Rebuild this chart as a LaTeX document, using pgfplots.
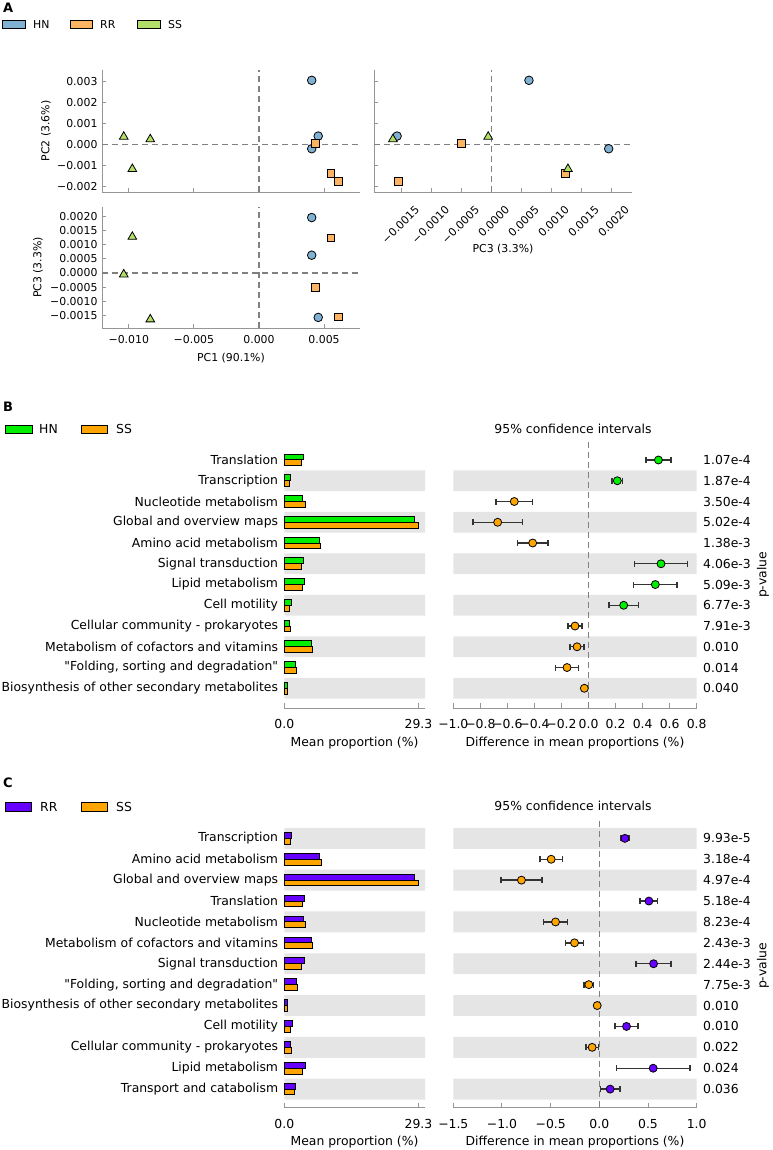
\documentclass[border=0pt]{standalone}
\usepackage{fontspec}
\setmainfont{DejaVu Sans}[Ligatures=TeXOff]
\usepackage{pgfplots}
\usepackage{pgfplotstable}
\pgfplotsset{compat=1.18}

\definecolor{hnA}{RGB}{128,177,211}
\definecolor{rrA}{RGB}{253,180,98}
\definecolor{ssA}{RGB}{179,222,105}
\definecolor{hnB}{RGB}{0,238,0}
\definecolor{ssB}{RGB}{255,165,0}
\definecolor{rrC}{RGB}{102,0,255}
\definecolor{band}{RGB}{229,229,229}
\definecolor{spine}{RGB}{150,150,150}

\newcommand\fa{\fontsize{10.9}{12}\selectfont}
\newcommand\fb{\fontsize{12.4}{14}\selectfont}

% PCA scores: pa = PC1, pb = PC2, pc = PC3
\pgfplotstableread{
pa pb pc
0.00405 0.00304 0.00063
0.00455 0.00040 -0.00157
0.00405 -0.00020 0.00196
}\HN
\pgfplotstableread{
pa pb pc
0.00432 0.00007 -0.00050
0.00553 -0.00138 0.00124
0.00607 -0.00176 -0.00155
}\RR
\pgfplotstableread{
pa pb pc
-0.01039 0.00037 -0.00005
-0.00835 0.00025 -0.00164
-0.00973 -0.00116 0.00128
}\SS

% panel B: HN vs SS
\pgfplotstableread{
r hn ss
0 4.30 3.80
-1 1.46 1.24
-2 3.93 4.52
-3 28.50 29.26
-4 7.64 8.01
-5 4.30 3.65
-6 4.37 3.93
-7 1.60 1.24
-8 1.17 1.31
-9 5.98 6.11
-10 2.49 2.62
-11 0.59 0.66
}\Bbar
\pgfplotstableread{
r d e
0 0.517 0.093
-1 0.213 0.040
-5 0.536 0.196
-6 0.494 0.161
-7 0.260 0.108
}\Bpos
\pgfplotstableread{
r d e
-2 -0.549 0.135
-3 -0.672 0.183
-4 -0.413 0.112
-8 -0.100 0.053
-9 -0.085 0.051
-10 -0.159 0.087
-11 -0.031 0.012
}\Bneg

% panel C: RR vs SS
\pgfplotstableread{
r rr ss
0 1.68 1.31
-1 7.58 8.08
-2 28.50 29.40
-3 4.45 3.93
-4 4.15 4.67
-5 5.90 6.20
-6 4.45 3.86
-7 2.77 2.92
-8 0.66 0.80
-9 1.75 1.40
-10 1.40 1.53
-11 4.67 4.00
-12 2.34 2.27
}\Cbar
\pgfplotstableread{
r d e
0 0.262 0.041
-3 0.509 0.090
-6 0.557 0.180
-9 0.279 0.120
-11 0.553 0.377
-12 0.111 0.100
}\Cpos
\pgfplotstableread{
r d e
-1 -0.495 0.115
-2 -0.800 0.210
-4 -0.450 0.125
-5 -0.255 0.090
-7 -0.108 0.050
-8 -0.022 0.008
-10 -0.074 0.065
}\Cneg

\pgfplotsset{
  pca/.style={
    scale only axis, width=258pt, height=122pt, anchor=north west,
    axis x line*=bottom, axis y line*=left,
    axis line style={spine, line width=1pt, -},
    tick style={spine, line width=1pt}, tick align=inside, major tick length=4pt,
    tick label style={font=\fa}, scaled ticks=false,
    yticklabel shift=1pt, xticklabel shift=4pt, clip=false,
  },
  hnm/.style={only marks, mark=*, mark size=4.3pt, mark options={fill=hnA, draw=black, line width=0.8pt}},
  rrm/.style={only marks, mark=square*, mark size=3.9pt, mark options={fill=rrA, draw=black, line width=0.8pt}},
  ssm/.style={only marks, mark=triangle*, mark size=5pt, mark options={fill=ssA, draw=black, line width=0.8pt}},
  zline/.style={gray, dash pattern=on 6pt off 4pt, line width=1.2pt},
  stamp/.style={
    scale only axis, anchor=north west,
    axis x line*=bottom, axis y line*=left,
    x axis line style={spine, line width=1pt, -}, y axis line style={draw=none},
    xtick style={spine, line width=1pt}, ytick style={draw=none},
    tick align=inside, major tick length=5pt,
    tick label style={font=\fb}, xticklabel shift=8pt,
    clip=false,
  },
  ci/.style={stamp, axis y line*=right, yticklabel pos=right,
    yticklabel style={anchor=west}, yticklabel shift=3pt},
  cimark/.style={only marks, mark=*, mark size=4pt, mark options={fill=#1, draw=black, line width=0.8pt},
    error bars/.cd, x dir=both, x explicit,
    error bar style={black!80, line width=1.4pt},
    error mark=|, error mark options={black!80, line width=1.4pt, mark size=3pt}},
}

\begin{document}
\begin{tikzpicture}
\path[use as bounding box] (0,0) rectangle (772pt,-1150pt);

% ---------------- panel A ----------------
\node[anchor=west, inner sep=0, font=\bfseries\fontsize{13}{14}\selectfont] at (3pt,-7.5pt) {A};
\draw[line width=1pt, fill=hnA] (2.5pt,-21pt) rectangle (25pt,-29pt);
\node[anchor=west, inner sep=0, font=\fa] at (33pt,-25pt) {HN};
\draw[line width=1pt, fill=rrA] (70pt,-21pt) rectangle (92.5pt,-29pt);
\node[anchor=west, inner sep=0, font=\fa] at (100pt,-25pt) {RR};
\draw[line width=1pt, fill=ssA] (137pt,-21pt) rectangle (160pt,-29pt);
\node[anchor=west, inner sep=0, font=\fa] at (168pt,-25pt) {SS};

\begin{axis}[pca, at={(102pt,-70pt)},
  xmin=-0.01206, xmax=0.00776, ymin=-0.00225, ymax=0.00353,
  xtick={-0.01,-0.005,0,0.005}, xticklabels={},
  ytick={-0.002,-0.001,0,0.001,0.002,0.003},
  yticklabels={−0.002,−0.001,0.000,0.001,0.002,0.003}]
\addplot[zline] coordinates {(-0.01206,0) (0.00776,0)};
\addplot[zline] coordinates {(0,-0.00225) (0,0.00353)};
\addplot[hnm] table[x=pa, y=pb] {\HN};
\addplot[rrm] table[x=pa, y=pb] {\RR};
\addplot[ssm] table[x=pa, y=pb] {\SS};
\end{axis}

\begin{axis}[pca, at={(102pt,-206.7pt)}, height=121.6pt,
  xmin=-0.01206, xmax=0.00776, ymin=-0.001955, ymax=0.002344,
  xtick={-0.01,-0.005,0,0.005}, xticklabels={−0.010,−0.005,0.000,0.005},
  ytick={-0.0015,-0.001,-0.0005,0,0.0005,0.001,0.0015,0.002},
  yticklabels={−0.0015,−0.0010,−0.0005,0.0000,0.0005,0.0010,0.0015,0.0020}]
\addplot[zline] coordinates {(-0.01206,0) (0.00776,0)};
\addplot[zline] coordinates {(0,-0.001955) (0,0.002344)};
\addplot[hnm] table[x=pa, y=pc] {\HN};
\addplot[rrm] table[x=pa, y=pc] {\RR};
\addplot[ssm] table[x=pa, y=pc] {\SS};
\end{axis}

\begin{axis}[pca, at={(374pt,-70pt)}, width=257.7pt,
  xmin=-0.001955, xmax=0.002344, ymin=-0.00225, ymax=0.00353,
  xtick={-0.0015,-0.001,-0.0005,0,0.0005,0.001,0.0015,0.002},
  xticklabels={−0.0015,−0.0010,−0.0005,0.0000,0.0005,0.0010,0.0015,0.0020},
  xticklabel style={xshift=13pt, yshift=-4pt, rotate=45, anchor=north east},
  ytick={-0.002,-0.001,0,0.001,0.002,0.003}, yticklabels={}]
\addplot[zline] coordinates {(-0.001955,0) (0.002344,0)};
\addplot[zline] coordinates {(0,-0.00225) (0,0.00353)};
\addplot[hnm] table[x=pc, y=pb] {\HN};
\addplot[rrm] table[x=pc, y=pb] {\RR};
\addplot[ssm] table[x=pc, y=pb] {\SS};
\end{axis}

\node[font=\fa] at (231pt,-357.7pt) {PC1 (90.1\%)};
\node[font=\fa] at (503pt,-249pt) {PC3 (3.3\%)};
\node[font=\fa, rotate=90] at (46pt,-131pt) {PC2 (3.6\%)};
\node[font=\fa, rotate=90] at (38pt,-267.5pt) {PC3 (3.3\%)};

% ---------------- panel B ----------------
\node[anchor=west, inner sep=0, font=\bfseries\fontsize{13}{14}\selectfont] at (3pt,-407pt) {B};
\draw[line width=1pt, fill=hnB] (5pt,-425pt) rectangle (32pt,-433pt);
\node[anchor=west, inner sep=0, font=\fb] at (39pt,-429pt) {HN};
\draw[line width=1pt, fill=ssB] (81pt,-425pt) rectangle (107pt,-433pt);
\node[anchor=west, inner sep=0, font=\fb] at (116pt,-429pt) {SS};
\node[font=\fb] at (573pt,-429pt) {95\% confidence intervals};

\begin{axis}[stamp, at={(284.3pt,-442pt)}, width=140.7pt, height=266pt,
  xmin=0, xmax=30.72, ymin=-11.95, ymax=0.867,
  xtick={0,29.3}, xticklabels={0.0,29.3},
  ytick={0,-1,-2,-3,-4,-5,-6,-7,-8,-9,-10,-11}, yticklabel shift=2.7pt,
  yticklabels={Translation,Transcription,Nucleotide metabolism,Global and overview maps,
    Amino acid metabolism,Signal transduction,Lipid metabolism,Cell motility,
    Cellular community - prokaryotes,Metabolism of cofactors and vitamins,
    {"Folding, sorting and degradation"},Biosynthesis of other secondary metabolites}]
\addplot[xbar, bar width=20.75pt, bar shift=0pt, fill=band, draw=none]
  coordinates {(30.72,-1) (30.72,-3) (30.72,-5) (30.72,-7) (30.72,-9) (30.72,-11)};
\addplot[xbar, bar width=5.8pt, bar shift=2.9pt, fill=hnB, draw=black, line width=1pt] table[x=hn, y=r] {\Bbar};
\addplot[xbar, bar width=5.8pt, bar shift=-2.9pt, fill=ssB, draw=black, line width=1pt] table[x=ss, y=r] {\Bbar};
\end{axis}

\begin{axis}[ci, at={(453.3pt,-442pt)}, width=243.4pt, height=266pt,
  xmin=-1, xmax=0.8, ymin=-11.95, ymax=0.867,
  xtick={-1,-0.8,-0.6,-0.4,-0.2,0,0.2,0.4,0.6,0.8},
  xticklabels={−1.0,−0.8,−0.6,−0.4,−0.2,0.0,0.2,0.4,0.6,0.8},
  ytick={0,-1,-2,-3,-4,-5,-6,-7,-8,-9,-10,-11},
  yticklabels={1.07e-4,1.87e-4,3.50e-4,5.02e-4,1.38e-3,4.06e-3,5.09e-3,6.77e-3,7.91e-3,0.010,0.014,0.040}]
\addplot[xbar, bar width=20.75pt, bar shift=0pt, fill=band, draw=none]
  coordinates {(0.8,-1) (-1,-1) (0.8,-3) (-1,-3) (0.8,-5) (-1,-5) (0.8,-7) (-1,-7) (0.8,-9) (-1,-9) (0.8,-11) (-1,-11)};
\addplot[zline] coordinates {(0,0.867) (0,-11.95)};
\addplot[cimark=hnB] table[x=d, y=r, x error=e] {\Bpos};
\addplot[cimark=ssB] table[x=d, y=r, x error=e] {\Bneg};
\end{axis}

\node[font=\fb] at (354.5pt,-742.7pt) {Mean proportion (\%)};
\node[font=\fb] at (575pt,-742.7pt) {Difference in mean proportions (\%)};
\node[font=\fb, rotate=90] at (763pt,-575pt) {p-value};

% ---------------- panel C ----------------
\node[anchor=west, inner sep=0, font=\bfseries\fontsize{13}{14}\selectfont] at (3pt,-783pt) {C};
\draw[line width=1pt, fill=rrC] (5pt,-802pt) rectangle (31pt,-811pt);
\node[anchor=west, inner sep=0, font=\fb] at (40pt,-806.5pt) {RR};
\draw[line width=1pt, fill=ssB] (81pt,-802pt) rectangle (107pt,-811pt);
\node[anchor=west, inner sep=0, font=\fb] at (116pt,-806.5pt) {SS};
\node[font=\fb] at (573pt,-806pt) {95\% confidence intervals};

\begin{axis}[stamp, at={(284.3pt,-821pt)}, width=140.7pt, height=286.5pt,
  xmin=0, xmax=30.72, ymin=-12.88, ymax=0.83,
  xtick={0,29.3}, xticklabels={0.0,29.3},
  ytick={0,-1,-2,-3,-4,-5,-6,-7,-8,-9,-10,-11,-12}, yticklabel shift=2.7pt,
  yticklabels={Transcription,Amino acid metabolism,Global and overview maps,Translation,
    Nucleotide metabolism,Metabolism of cofactors and vitamins,Signal transduction,
    {"Folding, sorting and degradation"},Biosynthesis of other secondary metabolites,
    Cell motility,Cellular community - prokaryotes,Lipid metabolism,Transport and catabolism}]
\addplot[xbar, bar width=20.9pt, bar shift=0pt, fill=band, draw=none]
  coordinates {(30.72,0) (30.72,-2) (30.72,-4) (30.72,-6) (30.72,-8) (30.72,-10) (30.72,-12)};
\addplot[xbar, bar width=5.8pt, bar shift=2.9pt, fill=rrC, draw=black, line width=1pt] table[x=rr, y=r] {\Cbar};
\addplot[xbar, bar width=5.8pt, bar shift=-2.9pt, fill=ssB, draw=black, line width=1pt] table[x=ss, y=r] {\Cbar};
\end{axis}

\begin{axis}[ci, at={(453.3pt,-821pt)}, width=243.4pt, height=286.5pt,
  xmin=-1.5, xmax=1.0, ymin=-12.88, ymax=0.83,
  xtick={-1.5,-1,-0.5,0,0.5,1}, xticklabels={−1.5,−1.0,−0.5,0.0,0.5,1.0},
  ytick={0,-1,-2,-3,-4,-5,-6,-7,-8,-9,-10,-11,-12},
  yticklabels={9.93e-5,3.18e-4,4.97e-4,5.18e-4,8.23e-4,2.43e-3,2.44e-3,7.75e-3,0.010,0.010,0.022,0.024,0.036}]
\addplot[xbar, bar width=20.9pt, bar shift=0pt, fill=band, draw=none]
  coordinates {(1,0) (-1.5,0) (1,-2) (-1.5,-2) (1,-4) (-1.5,-4) (1,-6) (-1.5,-6) (1,-8) (-1.5,-8) (1,-10) (-1.5,-10) (1,-12) (-1.5,-12)};
\addplot[zline] coordinates {(0,0.83) (0,-12.88)};
\addplot[cimark=rrC] table[x=d, y=r, x error=e] {\Cpos};
\addplot[cimark=ssB] table[x=d, y=r, x error=e] {\Cneg};
\end{axis}

\node[font=\fb] at (354.5pt,-1142pt) {Mean proportion (\%)};
\node[font=\fb] at (575pt,-1142pt) {Difference in mean proportions (\%)};
\node[font=\fb, rotate=90] at (763pt,-966pt) {p-value};
\end{tikzpicture}
\end{document}
